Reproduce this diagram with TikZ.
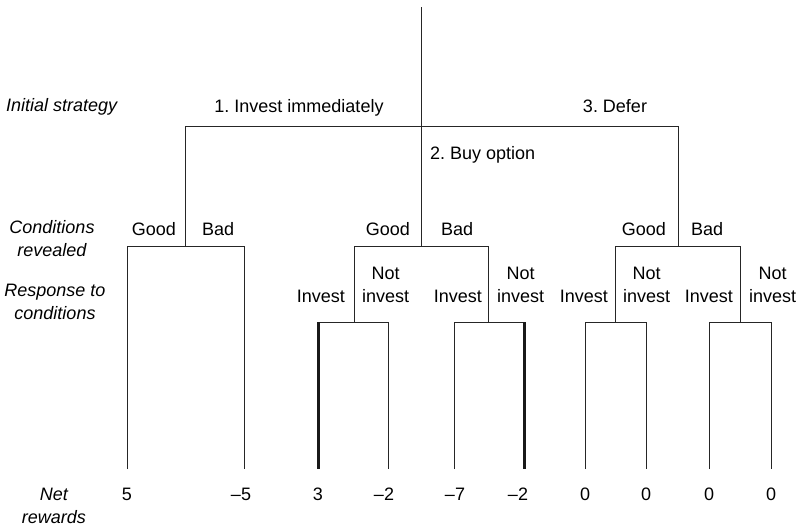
\documentclass[tikz,border=0pt]{standalone}
\usepackage{fontspec}
\setmainfont{Liberation Sans}
\frenchspacing
\begin{document}
\begin{tikzpicture}[x=1pt,y=-1pt,
  edge/.style={line width=0.9pt,black!85},
  best/.style={line width=3pt,black!90},
  lbl/.style={inner sep=0pt,font=\fontsize{18}{23}\selectfont},
  side/.style={lbl,font=\fontsize{18}{23}\selectfont\itshape,align=center}]
\useasboundingbox (0,0) rectangle (803,528);
% junctions
\coordinate (top) at (421,7);
\coordinate (root) at (421,126);
\coordinate (L) at (185,126);
\coordinate (R) at (678,126);
\coordinate (Lc) at (185,246);
\coordinate (Mc) at (421,246);
\coordinate (Rc) at (678,246);
\coordinate (a1) at (127,246); \coordinate (a2) at (244,246);
\coordinate (m1) at (354,246); \coordinate (m2) at (488,246);
\coordinate (r1) at (615,246); \coordinate (r2) at (740,246);
\coordinate (m1r) at (354,322); \coordinate (m2r) at (488,322);
\coordinate (r1r) at (615,322); \coordinate (r2r) at (740,322);
\coordinate (b1) at (318,322); \coordinate (b2) at (388,322);
\coordinate (b3) at (454,322); \coordinate (b4) at (524,322);
\coordinate (b5) at (585,322); \coordinate (b6) at (646,322);
\coordinate (b7) at (709,322); \coordinate (b8) at (771,322);
% leaves
\coordinate (e1) at (127,469); \coordinate (e2) at (244,469);
\coordinate (e3) at (318,469); \coordinate (e4) at (388,469);
\coordinate (e5) at (454,469); \coordinate (e6) at (524,469);
\coordinate (e7) at (585,469); \coordinate (e8) at (646,469);
\coordinate (e9) at (709,469); \coordinate (e10) at (771,469);
% tree
\draw[edge] (top) -- (root);
\draw[edge] (L) -- (R);
\draw[edge] (L) -- (Lc);
\draw[edge] (root) -- (Mc);
\draw[edge] (R) -- (Rc);
\draw[edge] (e1) -- (a1) -- (a2) -- (e2);
\draw[edge] (m1r) -- (m1) -- (m2) -- (m2r);
\draw[edge] (r1r) -- (r1) -- (r2) -- (r2r);
\draw[edge] (e3) -- (b1) -- (b2) -- (e4);
\draw[edge] (e5) -- (b3) -- (b4) -- (e6);
\draw[edge] (e7) -- (b5) -- (b6) -- (e8);
\draw[edge] (e9) -- (b7) -- (b8) -- (e10);
\draw[best] ([yshift=-0.45pt]b1) -- (e3);
\draw[best] ([yshift=-0.45pt]b4) -- (e6);
% side labels
\node[side,anchor=base west] (s1) at (6,111) {Initial strategy};
\node[side] (s2) at (52,239) {Conditions\\revealed};
\node[side] (s3) at (55,302) {Response to\\conditions};
\node[side] (s4) at (54,506) {Net\\rewards};
% strategy labels
\node[lbl,anchor=base] (t1) at (299,112) {1. Invest immediately};
\node[lbl,anchor=base west] (t2) at (430,159) {2. Buy option};
\node[lbl,anchor=base] (t3) at (615,112) {3. Defer};
% conditions
\node[lbl,anchor=base east] (g1) at (176,235) {Good};
\node[lbl,anchor=base west] (d1) at (202,235) {Bad};
\node[lbl,anchor=base east] (g2) at (410,235) {Good};
\node[lbl,anchor=base west] (d2) at (441,235) {Bad};
\node[lbl,anchor=base east] (g3) at (666,235) {Good};
\node[lbl,anchor=base west] (d3) at (691,235) {Bad};
% responses
\node[lbl,anchor=base east] (i1) at (345,302) {Invest};
\node[lbl,anchor=base west] (n1) at (362,302) {invest};
\node[lbl,anchor=base east] (i2) at (482,302) {Invest};
\node[lbl,anchor=base west] (n2) at (497,302) {invest};
\node[lbl,anchor=base east] (i3) at (608,302) {Invest};
\node[lbl,anchor=base west] (n3) at (623,302) {invest};
\node[lbl,anchor=base east] (i4) at (733,302) {Invest};
\node[lbl,anchor=base west] (n4) at (749,302) {invest};
\node[lbl,anchor=base] (o1) at ([yshift=23pt]n1.base) {Not};
\node[lbl,anchor=base] (o2) at ([yshift=23pt]n2.base) {Not};
\node[lbl,anchor=base] (o3) at ([yshift=23pt]n3.base) {Not};
\node[lbl,anchor=base] (o4) at ([yshift=23pt]n4.base) {Not};
% rewards
\node[lbl,anchor=base] (v1) at (127,500) {5};
\node[lbl,anchor=base] (v2) at (241,500) {–5};
\node[lbl,anchor=base] (v3) at (318,500) {3};
\node[lbl,anchor=base] (v4) at (384,500) {–2};
\node[lbl,anchor=base] (v5) at (455,500) {–7};
\node[lbl,anchor=base] (v6) at (518,500) {–2};
\node[lbl,anchor=base] (v7) at (585,500) {0};
\node[lbl,anchor=base] (v8) at (646,500) {0};
\node[lbl,anchor=base] (v9) at (709,500) {0};
\node[lbl,anchor=base] (v10) at (771,500) {0};
\end{tikzpicture}
\end{document}
